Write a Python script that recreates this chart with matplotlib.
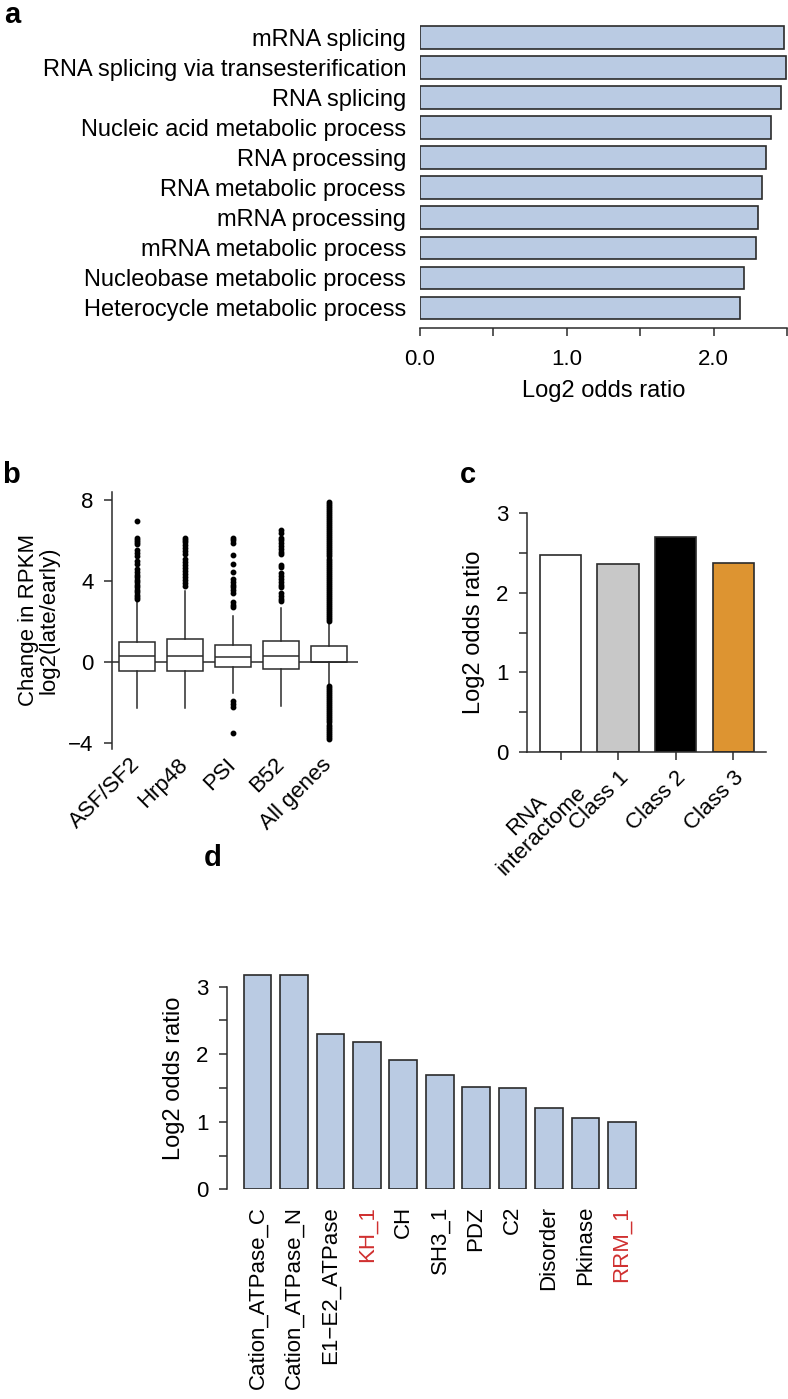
import numpy as np
import matplotlib
matplotlib.use("Agg")
import matplotlib.pyplot as plt

plt.rcParams["font.family"] = ["Liberation Sans", "DejaVu Sans"]

W, H = 788, 1399
BLUE = "#bacbe3"
EDGE = "#2b2b2b"
RED = "#d03030"

# ---------------------------------------------------------------------------
# Datos
# ---------------------------------------------------------------------------
go_terms = [
    "mRNA splicing",
    "RNA splicing via transesterification",
    "RNA splicing",
    "Nucleic acid metabolic process",
    "RNA processing",
    "RNA metabolic process",
    "mRNA processing",
    "mRNA metabolic process",
    "Nucleobase metabolic process",
    "Heterocycle metabolic process",
]
go_log2or = [2.48, 2.49, 2.46, 2.39, 2.36, 2.33, 2.30, 2.29, 2.21, 2.18]

box_names = ["ASF/SF2", "Hrp48", "PSI", "B52", "All genes"]
box_med = [0.28, 0.28, 0.22, 0.28, 0.0]
box_q1 = [-0.46, -0.46, -0.26, -0.36, 0.0]
box_q3 = [0.96, 1.12, 0.84, 1.01, 0.78]
box_whislo = [-2.27, -2.27, -1.53, -2.19, -1.15]
box_whishi = [2.96, 3.49, 2.27, 2.67, 1.93]
box_fliers = [
    [6.95, 6.1, 6.0, 5.9, 5.8, 5.5, 5.35, 5.2, 5.0, 4.85, 4.6, 4.45, 4.3,
     4.2, 4.05, 3.95, 3.8, 3.7, 3.55, 3.45, 3.3, 3.2, 3.1],
    [6.1, 6.0, 5.9, 5.75, 5.6, 5.45, 5.3, 5.1, 4.95, 4.8, 4.65, 4.5, 4.35,
     4.2, 4.05, 3.9, 3.75],
    [6.1, 6.0, 5.85, 5.25, 4.85, 4.45, 4.1, 3.95, 3.8, 3.7, 3.55, 3.4,
     2.95, 2.8, 2.7, -1.95, -2.1, -2.25, -3.5],
    [6.5, 6.35, 6.1, 6.0, 5.85, 5.7, 5.55, 5.4, 5.3, 4.8, 4.7, 4.4, 4.25,
     4.1, 3.95, 3.8, 3.7, 3.4, 3.25, 3.1, 3.0],
    [2.0, 2.1, 2.2, 2.3, 2.4, 2.5, 2.6, 2.7, 2.8, 2.9, 3.0, 3.1, 3.2, 3.3,
     3.4, 3.5, 3.6, 3.7, 3.8, 3.9, 4.0, 4.1, 4.2, 4.3, 4.4, 4.5, 4.6, 4.7,
     4.8, 4.9, 5.0, 5.1, 5.2, 5.3, 5.4, 5.5, 5.6, 5.7, 5.8, 5.9, 6.0, 6.1,
     6.2, 6.3, 6.4, 6.5, 6.6, 6.7, 6.8, 6.9, 7.0, 7.1, 7.2, 7.3, 7.4, 7.5,
     7.6, 7.7, 7.8, 7.9,
     -1.2, -1.3, -1.4, -1.5, -1.6, -1.7, -1.8, -1.9, -2.0, -2.1, -2.2, -2.3,
     -2.4, -2.5, -2.6, -2.7, -2.8, -2.9, -3.0, -3.1, -3.2, -3.3, -3.4, -3.5,
     -3.6, -3.7, -3.8],
]

class_names = ["RNA\ninteractome", "Class 1", "Class 2", "Class 3"]
class_log2or = [2.47, 2.36, 2.70, 2.38]
class_colors = ["#ffffff", "#c8c8c8", "#000000", "#dd9431"]

domains = ["Cation_ATPase_C", "Cation_ATPase_N", "E1\u2212E2_ATPase", "KH_1",
           "CH", "SH3_1", "PDZ", "C2", "Disorder", "Pkinase", "RRM_1"]
domain_log2or = [3.17, 3.17, 2.30, 2.18, 1.91, 1.69, 1.52, 1.50, 1.20,
                 1.06, 1.00]
domain_red = ["KH_1", "RRM_1"]


def px_axes(fig, left, top, right, bottom):
    return fig.add_axes([left / W, 1 - bottom / H,
                         (right - left) / W, (bottom - top) / H])


def style_ticks(ax):
    ax.tick_params(width=1.1, length=6, colors=EDGE, labelcolor="black",
                   labelsize=16)
    for s in ax.spines.values():
        s.set_linewidth(1.1)
        s.set_color(EDGE)


fig = plt.figure(figsize=(W / 100, H / 100), dpi=100)

# ---------------------------------------------------------------------------
# a: barras horizontales
# ---------------------------------------------------------------------------
ax = px_axes(fig, 420, 20, 787, 328)
ypos = np.arange(len(go_terms))
ax.barh(ypos, go_log2or, height=0.75, color=BLUE, edgecolor=EDGE,
        linewidth=1.2)
ax.set_xlim(0, 2.5)
ax.set_ylim(9.67, -0.58)
ax.set_yticks(ypos)
ax.set_yticklabels(go_terms)
for s in ["top", "right", "left"]:
    ax.spines[s].set_visible(False)
style_ticks(ax)
ax.tick_params(axis="y", length=0, pad=10, labelsize=17)
ax.set_xticks(np.arange(0, 2.51, 0.5))
ax.set_xticklabels(["0.0", "", "1.0", "", "2.0", ""])
ax.tick_params(axis="x", pad=9)
ax.set_xlabel("Log2 odds ratio", fontsize=17, labelpad=7)

# ---------------------------------------------------------------------------
# b: boxplots
# ---------------------------------------------------------------------------
ax = px_axes(fig, 111.7, 491.7, 358, 749)
stats = []
for i, name in enumerate(box_names):
    stats.append(dict(label=name, med=box_med[i], q1=box_q1[i],
                      q3=box_q3[i], whislo=box_whislo[i],
                      whishi=box_whishi[i], fliers=box_fliers[i]))
pos = np.arange(1, len(box_names) + 1)
ax.axhline(0, color=EDGE, lw=1.1, zorder=1)
ax.bxp(stats, positions=pos, widths=0.76, patch_artist=True,
       showcaps=False,
       boxprops=dict(facecolor="white", edgecolor=EDGE, linewidth=1.1),
       medianprops=dict(color=EDGE, linewidth=1.1),
       whiskerprops=dict(color=EDGE, linewidth=1.1),
       flierprops=dict(marker="o", markersize=3.2, markerfacecolor="black",
                       markeredgecolor="black"),
       zorder=2)
ax.set_xlim(0.47, 5.61)
ax.set_ylim(-4.31, 8.40)
ax.set_yticks([-4, 0, 4, 8])
ax.set_yticklabels(["\u22124", "0", "4", "8"])
for s in ["top", "right", "bottom"]:
    ax.spines[s].set_visible(False)
style_ticks(ax)
ax.tick_params(axis="y", pad=7)
ax.tick_params(axis="x", length=0, pad=9)
ax.set_xticks(pos)
ax.set_xticklabels(box_names, rotation=45, ha="right", va="center",
                   rotation_mode="anchor")
ax.set_ylabel("Change in RPKM\nlog2(late/early)", fontsize=16,
              linespacing=1.0, labelpad=6)

# ---------------------------------------------------------------------------
# c: clases
# ---------------------------------------------------------------------------
ax = px_axes(fig, 526.7, 513.3, 766, 751.7)
cpos = np.arange(len(class_names))
ax.bar(cpos, class_log2or, width=0.72, color=class_colors, edgecolor=EDGE,
       linewidth=1.2)
ax.set_xlim(-0.59, 3.57)
ax.set_ylim(0, 3)
ax.set_yticks(np.arange(0, 3.01, 0.5))
ax.set_yticklabels(["0", "", "1", "", "2", "", "3"])
for s in ["top", "right"]:
    ax.spines[s].set_visible(False)
style_ticks(ax)
ax.tick_params(axis="y", pad=7)
ax.set_xticks(cpos)
ax.set_xticklabels(class_names, rotation=45, ha="right",
                   rotation_mode="anchor", multialignment="center",
                   linespacing=1.0)
ax.tick_params(axis="x", pad=5)
ax.set_ylabel("Log2 odds ratio", fontsize=17, labelpad=8)

# ---------------------------------------------------------------------------
# d: dominios
# ---------------------------------------------------------------------------
ax = px_axes(fig, 226.7, 966.4, 643.6, 1189.3)
dpos = np.arange(len(domains))
ax.bar(dpos, domain_log2or, width=0.76, color=BLUE, edgecolor=EDGE,
       linewidth=1.2)
ax.set_xlim(-0.85, 10.6)
ax.set_ylim(0, 3.3)
ax.spines["left"].set_bounds(0, 3)
ax.set_yticks(np.arange(0, 3.01, 0.5))
ax.set_yticklabels(["0", "", "1", "", "2", "", "3"])
for s in ["top", "right", "bottom"]:
    ax.spines[s].set_visible(False)
style_ticks(ax)
ax.tick_params(axis="y", pad=7)
ax.set_xticks(dpos)
ax.set_xticklabels(domains, rotation=90)
ax.tick_params(axis="x", length=0, pad=12)
for lab in ax.get_xticklabels():
    if lab.get_text() in domain_red:
        lab.set_color(RED)
ax.set_ylabel("Log2 odds ratio", fontsize=17, labelpad=8)

# ---------------------------------------------------------------------------
# letras de panel
# ---------------------------------------------------------------------------
for letter, x, y in [("a", 4, 23), ("b", 2, 483), ("c", 460, 483),
                     ("d", 204, 866)]:
    fig.text(x / W, 1 - y / H, letter, fontsize=21, fontweight="bold",
             va="baseline", ha="left")

fig.savefig("out.png", dpi=100)
